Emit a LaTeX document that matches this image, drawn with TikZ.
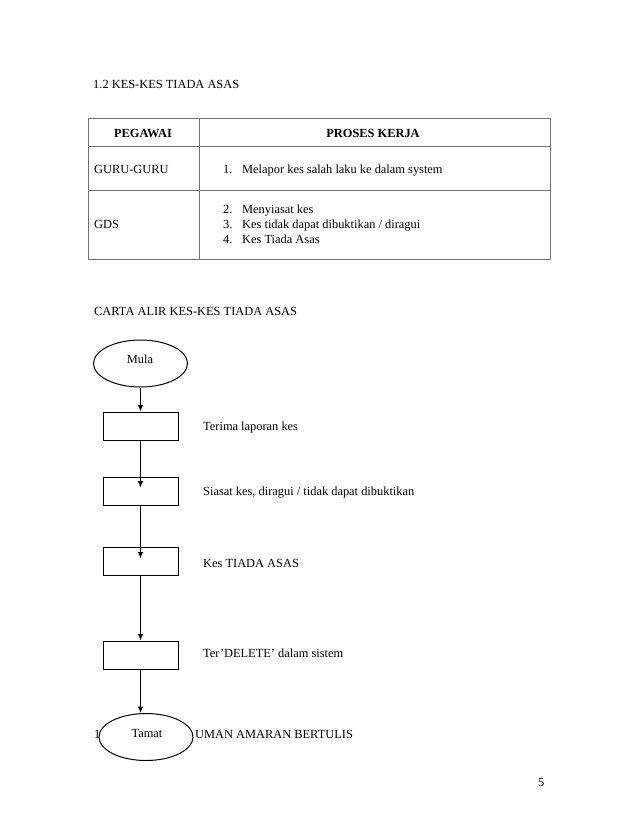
\documentclass[tikz,border=0pt]{standalone}
\usepackage{fontspec}
\setmainfont{Liberation Serif}
\usetikzlibrary{shapes.geometric,arrows.meta,calc}
\begin{document}
\begin{tikzpicture}[x=1pt,y=-1pt,
  txt/.style={anchor=base west,inner sep=0pt,font=\fontsize{12.4}{15}\selectfont},
  ctxt/.style={anchor=base,inner sep=0pt,font=\fontsize{12.4}{15}\selectfont},
  btxt/.style={anchor=base,inner sep=0pt,font=\fontsize{12.4}{15}\selectfont\bfseries},
  tbl/.style={draw=black!55,line width=0.9pt},
  flowbox/.style={draw,line width=1pt,minimum width=75pt,minimum height=28pt,inner sep=0pt},
  oval/.style={ellipse,draw,fill=white,line width=1pt,minimum width=94pt,minimum height=47pt,inner sep=0pt},
  flow/.style={line width=1pt,-{Latex[length=6.5pt,width=5.5pt]}}]
\useasboundingbox[fill=white] (0,0) rectangle (638,826);

% title
\node[txt] (title) at (93,89) {1.2 KES-KES TIADA ASAS};

% table
\draw[tbl] (88,118) rectangle (550,259);
\draw[tbl] (88,146) -- (550,146);
\draw[tbl] (88,190) -- (550,190);
\draw[tbl] (199,118) -- (199,259);
\node[btxt] (h1) at (143,138) {PEGAWAI};
\node[btxt] (h2) at (373,138) {PROSES KERJA};
\node[txt] (r1) at (94,174) {GURU-GURU};
\node[txt] (n1) at (223,174) {1.};
\node[txt] (t1) at (242,174) {Melapor kes salah laku ke dalam system};
\node[txt] (r2) at (94,229) {GDS};
\node[txt] (n2) at (223,214) {2.};
\node[txt] (t2) at (242,214) {Menyiasat kes};
\node[txt] (n3) at (223,229) {3.};
\node[txt] (t3) at (242,229) {Kes tidak dapat dibuktikan / diragui};
\node[txt] (n4) at (223,243) {4.};
\node[txt] (t4) at (242,243) {Kes Tiada Asas};

% flowchart
\node[txt] (ctitle) at (94,315) {CARTA ALIR KES-KES TIADA ASAS};

\node[oval] (mula) at (140.5,363.5) {};
\node[ctxt] (mulat) at (140,363) {Mula};

\node[flowbox] (b1) at (140.5,426) {};
\node[flowbox] (b2) at (140.5,491) {};
\node[flowbox] (b3) at (140.5,561) {};
\node[flowbox] (b4) at (140.5,655) {};

\node[txt] (l1) at (203,430) {Terima laporan kes};
\node[txt] (l2) at (203,495) {Siasat kes, diragui / tidak dapat dibuktikan};
\node[txt] (l3) at (203,567) {Kes TIADA ASAS};
\node[txt] (l4) at (203,657) {Ter’DELETE’ dalam sistem};

\node[txt] (next1) at (94,738) {1};
\node[txt] (next2) at (195,738) {UMAN AMARAN BERTULIS};

\node[oval] (tamat) at (146,737) {};
\node[ctxt] (tamatt) at (147,737) {Tamat};

\draw[flow] (mula.south) -- (b1.north);
\draw[flow] (b1.south) -- ($(b2.north)+(0,11)$);
\draw[flow] (b2.south) -- ($(b3.north)+(0,12)$);
\draw[flow] (b3.south) -- (b4.north);
\draw[flow] (b4.south) -- (b4.south |- tamat.north);

\node[txt] (page) at (538,786) {5};
\end{tikzpicture}
\end{document}
